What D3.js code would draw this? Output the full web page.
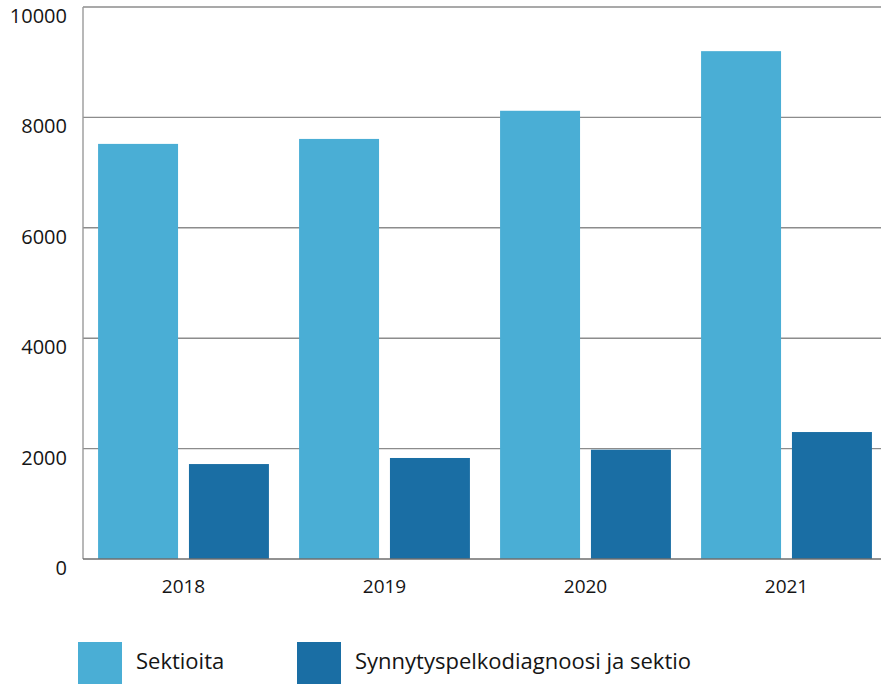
<!DOCTYPE html>
<html>
<head>
<meta charset="utf-8">
<script src="https://cdn.jsdelivr.net/npm/d3@7"></script>
<style>
  html, body { margin: 0; padding: 0; background: #fff; }
  svg { display: block; }
  text { font-family: "Open Sans", "Noto Sans", sans-serif; fill: #151515; }
</style>
</head>
<body>
<svg id="chart" width="881" height="684"></svg>
<script>
// Yearly counts of caesarean sections
const years = ["2018", "2019", "2020", "2021"];
const seriesNames = ["Sektioita", "Synnytyspelkodiagnoosi ja sektio"];
const sektioita = [7520, 7610, 8120, 9200];
const pelkoSektio = [1720, 1830, 1980, 2300];
const yTicks = [0, 2000, 4000, 6000, 8000, 10000];
const colors = ["#4aaed5", "#1a6ea4"];

const svg = d3.select("#chart");
const plotLeft = 83, plotRight = 887, plotTop = 7, plotBottom = 559;

const x = d3.scaleBand().domain(years).range([plotLeft, plotRight])
  .paddingInner(0.15).paddingOuter(0.075);
const xs = d3.scaleBand().domain(seriesNames).range([0, x.bandwidth()])
  .paddingInner(0.12);
const y = d3.scaleLinear().domain([0, 10000]).range([plotBottom, plotTop]);

// gridlines
svg.append("g").selectAll("line").data(yTicks.filter(d => d > 0)).join("line")
  .attr("x1", plotLeft).attr("x2", 881)
  .attr("y1", d => y(d)).attr("y2", d => y(d))
  .attr("stroke", "#8c8c8c").attr("stroke-width", 1.4);

// left axis line
svg.append("line").attr("x1", plotLeft).attr("x2", plotLeft)
  .attr("y1", plotTop).attr("y2", plotBottom)
  .attr("stroke", "#9a9a9a").attr("stroke-width", 1.4);

// bars
const data = years.map((yr, i) => ({ year: yr, values: [sektioita[i], pelkoSektio[i]] }));
const groups = svg.append("g").selectAll("g").data(data).join("g")
  .attr("transform", d => `translate(${x(d.year)},0)`);
groups.selectAll("rect")
  .data(d => d.values.map((v, k) => ({ name: seriesNames[k], value: v, k })))
  .join("rect")
  .attr("x", d => xs(d.name))
  .attr("width", xs.bandwidth())
  .attr("y", d => y(d.value))
  .attr("height", d => y(0) - y(d.value))
  .attr("fill", d => colors[d.k]);

// baseline
svg.append("line").attr("x1", plotLeft).attr("x2", 881)
  .attr("y1", y(0)).attr("y2", y(0))
  .attr("stroke", "#6e6e6e").attr("stroke-width", 1.6);

// y axis labels
const yAxis = d3.axisLeft(y).tickValues(yTicks).tickSize(0).tickPadding(0)
  .tickFormat(d3.format("d"));
const gy = svg.append("g").attr("transform", `translate(67,9)`).call(yAxis);
gy.select(".domain").remove();
gy.selectAll("text").attr("font-size", 20).attr("fill", "#151515")
  .style("font-family", '"Open Sans", "Noto Sans", sans-serif');

// x axis labels
const xAxis = d3.axisBottom(x).tickSize(0).tickPadding(0);
const gx = svg.append("g").attr("transform", `translate(0,${plotBottom + 20})`).call(xAxis);
gx.select(".domain").remove();
gx.selectAll("text").attr("font-size", 19).attr("fill", "#151515")
  .style("font-family", '"Open Sans", "Noto Sans", sans-serif');

// legend
const legendX = [78, 297];
const leg = svg.append("g").selectAll("g").data(seriesNames).join("g")
  .attr("transform", (d, i) => `translate(${legendX[i]},642)`);
leg.append("rect").attr("width", 44).attr("height", 44)
  .attr("fill", (d, i) => colors[i]);
leg.append("text").attr("x", 58).attr("y", 21)
  .attr("dominant-baseline", "middle")
  .attr("font-size", 22).text(d => d);
</script>
</body>
</html>
